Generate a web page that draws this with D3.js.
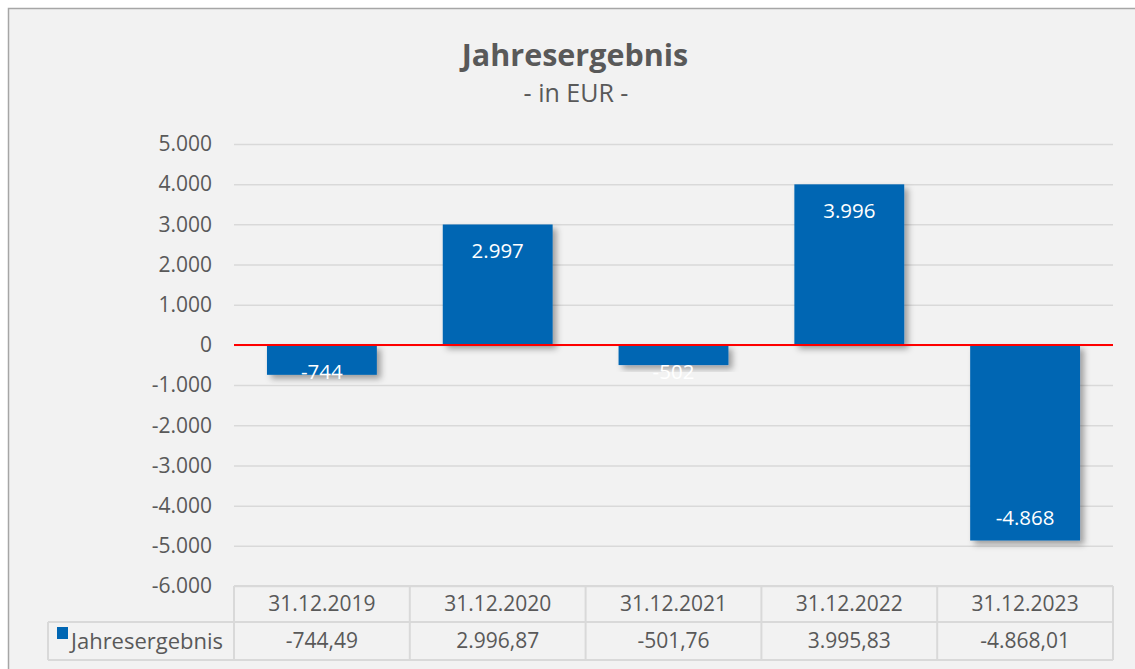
<!DOCTYPE html>
<html>
<head>
    <title>Jahresergebnis</title>
    <script src="https://d3js.org/d3.v7.min.js"></script>
    <style>
        body {
            margin: 0;
            background: #fff;
            font-family: "Open Sans", "Noto Sans", sans-serif;
        }
        svg text {
            fill: #595959;
        }
    </style>
</head>
<body>
    <svg id="chart" width="1135" height="669"></svg>

    <script>
        // chart data
        const categories = ["31.12.2019", "31.12.2020", "31.12.2021", "31.12.2022", "31.12.2023"];
        const values = [-744.49, 2996.87, -501.76, 3995.83, -4868.01];
        const seriesName = "Jahresergebnis";
        const yTicks = [5000, 4000, 3000, 2000, 1000, 0, -1000, -2000, -3000, -4000, -5000, -6000];
        const titleText = "Jahresergebnis";
        const subtitleText = "- in EUR -";

        const de = d3.formatLocale({
            decimal: ",",
            thousands: ".",
            grouping: [3],
            currency: ["", " €"],
            minus: "-"
        });
        const fmtInt = de.format(",.0f");
        const fmtDec = de.format(",.2f");

        const svg = d3.select("#chart");
        const W = +svg.attr("width"), H = +svg.attr("height");

        const plot = { left: 234, right: 1113, top: 144, bottom: 586 };
        const table = { left: 48, row1: 586, row2: 622, bottom: 660 };
        const barColor = "#0066b3";
        const gridColor = "#d9d9d9";

        // background frame
        svg.append("rect")
            .attr("x", 8.5).attr("y", 8.5)
            .attr("width", W + 10).attr("height", H + 10)
            .attr("fill", "#f2f2f2")
            .attr("stroke", "#a6a6a6")
            .attr("stroke-width", 1.5);

        const defs = svg.append("defs");
        const shadow = defs.append("filter").attr("id", "shadow")
            .attr("x", "-20%").attr("y", "-20%").attr("width", "150%").attr("height", "150%");
        shadow.append("feDropShadow")
            .attr("dx", 4).attr("dy", 4).attr("stdDeviation", 3)
            .attr("flood-color", "#000").attr("flood-opacity", 0.35);

        // title
        svg.append("text")
            .attr("x", 575).attr("y", 66)
            .attr("text-anchor", "middle")
            .style("font-size", "30.5px")
            .style("font-weight", "bold")
            .text(titleText);

        svg.append("text")
            .attr("x", 576).attr("y", 102)
            .attr("text-anchor", "middle")
            .style("font-size", "25px")
            .text(subtitleText);

        const x = d3.scaleBand()
            .domain(categories)
            .range([plot.left, plot.right])
            .padding(0);

        const y = d3.scaleLinear()
            .domain([d3.min(yTicks), d3.max(yTicks)])
            .range([plot.bottom, plot.top]);

        // gridlines
        const grid = svg.append("g")
            .attr("transform", `translate(${plot.left},0)`)
            .call(d3.axisLeft(y).tickValues(yTicks).tickSize(-(plot.right - plot.left)).tickFormat(""));
        grid.select(".domain").remove();
        grid.selectAll("line").attr("stroke", gridColor).attr("stroke-width", 1.5);

        // y axis labels
        const yAxis = svg.append("g")
            .attr("transform", `translate(${plot.left},0)`)
            .call(d3.axisLeft(y).tickValues(yTicks).tickSize(0).tickPadding(22).tickFormat(fmtInt));
        yAxis.select(".domain").remove();
        yAxis.selectAll("text")
            .style("font-size", "21px")
            .style("font-family", "'Open Sans', 'Noto Sans', sans-serif")
            .attr("fill", "#595959");

        // bars
        const barW = x.bandwidth() * 0.625;
        svg.append("g").selectAll("rect")
            .data(values)
            .join("rect")
            .attr("x", (d, i) => x(categories[i]) + (x.bandwidth() - barW) / 2)
            .attr("width", barW)
            .attr("y", d => y(Math.max(0, d)))
            .attr("height", d => Math.abs(y(d) - y(0)))
            .attr("fill", barColor)
            .attr("filter", "url(#shadow)");

        // zero line
        svg.append("line")
            .attr("x1", plot.left).attr("x2", plot.right)
            .attr("y1", y(0)).attr("y2", y(0))
            .attr("stroke", "#ff0000")
            .attr("stroke-width", 2);

        // bar labels (inside end)
        svg.append("g").selectAll("text")
            .data(values)
            .join("text")
            .attr("x", (d, i) => x(categories[i]) + x.bandwidth() / 2)
            .attr("y", d => d >= 0 ? y(d) + 26 : Math.max(y(d) - 23, y(0) + 27))
            .attr("dy", "0.35em")
            .attr("text-anchor", "middle")
            .style("font-size", "20.5px")
            .style("fill", "#fff")
            .text(d => fmtInt(d));

        // data table
        const tbl = svg.append("g")
            .attr("fill", "none")
            .attr("stroke", gridColor)
            .attr("stroke-width", 2);

        tbl.append("line")
            .attr("x1", plot.left).attr("x2", plot.right)
            .attr("y1", table.row1).attr("y2", table.row1);
        tbl.append("line")
            .attr("x1", table.left).attr("x2", plot.right)
            .attr("y1", table.row2).attr("y2", table.row2);
        tbl.append("line")
            .attr("x1", table.left).attr("x2", plot.right)
            .attr("y1", table.bottom).attr("y2", table.bottom);
        tbl.append("line")
            .attr("x1", table.left).attr("x2", table.left)
            .attr("y1", table.row2).attr("y2", table.bottom);
        tbl.selectAll(".vline")
            .data(categories.concat(["end"]))
            .join("line")
            .attr("class", "vline")
            .attr("x1", d => d === "end" ? plot.right : x(d))
            .attr("x2", d => d === "end" ? plot.right : x(d))
            .attr("y1", table.row1).attr("y2", table.bottom);

        svg.append("g").selectAll("text")
            .data(categories)
            .join("text")
            .attr("x", d => x(d) + x.bandwidth() / 2)
            .attr("y", (table.row1 + table.row2) / 2)
            .attr("dy", "0.35em")
            .attr("text-anchor", "middle")
            .style("font-size", "21px")
            .text(d => d);

        svg.append("g").selectAll("text")
            .data(values)
            .join("text")
            .attr("x", (d, i) => x(categories[i]) + x.bandwidth() / 2)
            .attr("y", (table.row2 + table.bottom) / 2)
            .attr("dy", "0.35em")
            .attr("text-anchor", "middle")
            .style("font-size", "21px")
            .text(d => fmtDec(d));

        // legend key in the table
        svg.append("rect")
            .attr("x", 57).attr("y", 627)
            .attr("width", 11).attr("height", 12)
            .attr("fill", barColor);
        svg.append("text")
            .attr("x", 71)
            .attr("y", (table.row2 + table.bottom) / 2)
            .attr("dy", "0.35em")
            .style("font-size", "22px")
            .text(seriesName);
    </script>
</body>
</html>
